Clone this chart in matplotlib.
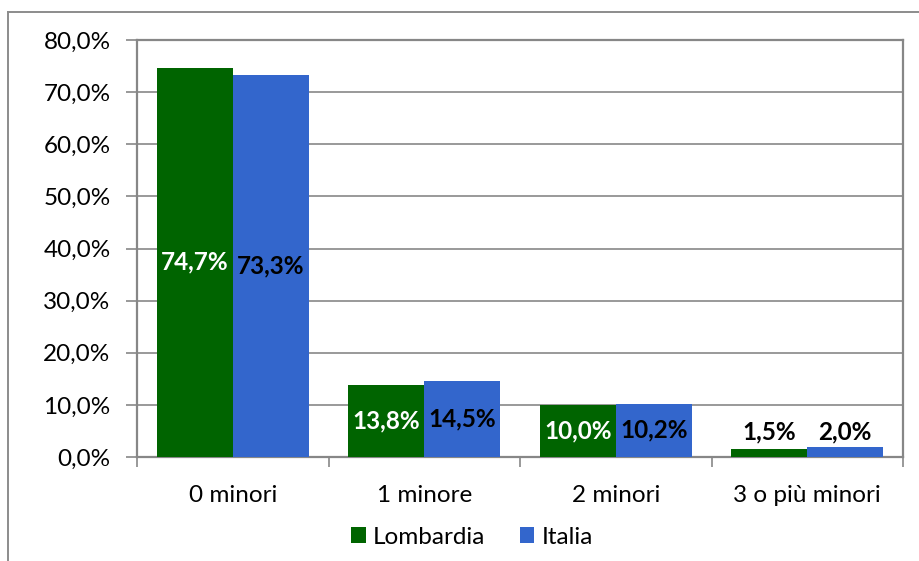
import numpy as np
import matplotlib
matplotlib.use("Agg")
import matplotlib.pyplot as plt
from matplotlib.lines import Line2D

plt.rcParams['font.family'] = ['Lato', 'DejaVu Sans']

# data
categorie = ['0 minori', '1 minore', '2 minori', '3 o più minori']
lombardia = [74.7, 13.8, 10.0, 1.5]
italia = [73.3, 14.5, 10.2, 2.0]
serie = ['Lombardia', 'Italia']

verde = '#006400'
blu = '#3366CC'
grigio = '#878787'

W, H = 919, 561
fig = plt.figure(figsize=(W / 100, H / 100), dpi=100)
ax = fig.add_axes([137 / W, 1 - 457 / H, (903 - 137) / W, (457 - 40) / H])

x = np.arange(len(categorie))
bw = 0.397
b1 = ax.bar(x - bw / 2, lombardia, bw, color=verde, label=serie[0], zorder=3)
b2 = ax.bar(x + bw / 2, italia, bw, color=blu, label=serie[1], zorder=3)

ax.set_xlim(-0.5, len(categorie) - 0.5)
ax.set_ylim(0, 80)
ax.set_yticks(np.arange(0, 81, 10))
ax.set_yticklabels([f'{v:.1f}%'.replace('.', ',') for v in np.arange(0, 81, 10)])
ax.set_xticks(x)
ax.set_xticklabels(categorie)
ax.set_xticks(np.arange(-0.5, len(categorie)), minor=True)
ax.tick_params(axis='x', which='major', length=0, pad=20, labelsize=17.5)
ax.tick_params(axis='x', which='minor', length=7, color=grigio, width=1.2)
ax.tick_params(axis='y', length=8, color=grigio, width=1.2, pad=11, labelsize=17.5)
ax.grid(axis='y', color=grigio, linewidth=1.2, zorder=0)
for s in ax.spines.values():
    s.set_color(grigio)
    s.set_linewidth(1.6)

# etichette dati
for i in range(len(categorie)):
    top = max(lombardia[i], italia[i])
    for val, xpos, col in [(lombardia[i], x[i] - bw / 2, 'white'), (italia[i], x[i] + bw / 2, 'black')]:
        if top > 5:
            y = val / 2
            c = col
        else:
            y = top + 2.8
            c = 'black'
        ax.text(xpos, y, f'{val:.1f}%'.replace('.', ','), ha='center', va='center',
                color=c, fontsize=17.5, fontweight='bold', zorder=4)

fig.legend(handles=[b1, b2], labels=serie, loc='center', bbox_to_anchor=(472 / W, 1 - 537 / H),
           ncol=2, frameon=False, fontsize=17.5, handlelength=0.6, handleheight=0.6,
           handletextpad=0.3, columnspacing=1.4)

# bordo esterno
fig.add_artist(Line2D([8 / W, 8 / W], [0, 1 - 12 / H], color='#8c8c8c', linewidth=1.4, transform=fig.transFigure))
fig.add_artist(Line2D([8 / W, 1], [1 - 12 / H, 1 - 12 / H], color='#8c8c8c', linewidth=1.4, transform=fig.transFigure))

plt.savefig('out.png', dpi=100)
